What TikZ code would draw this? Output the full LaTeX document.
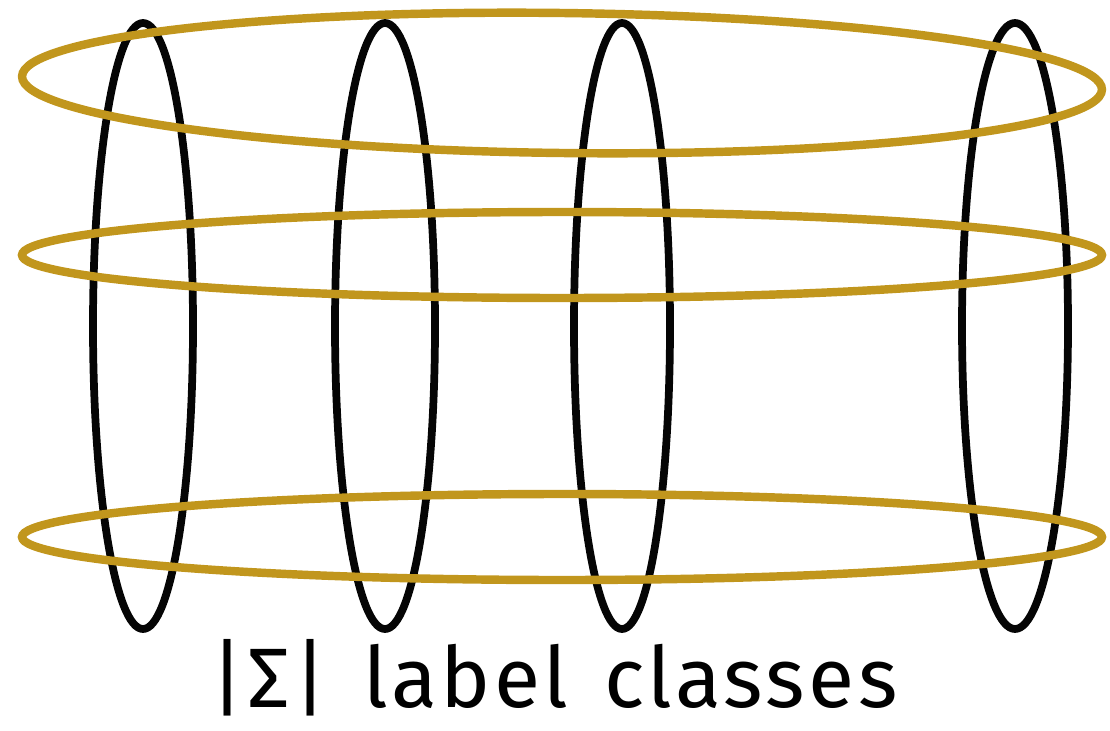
\documentclass[tikz,border=0pt]{standalone}
\usepackage{fontspec}
\setmainfont{Fira Sans}
\newfontfamily\captionfont[LetterSpace=4,WordSpace=1.4]{Fira Sans}
\usepackage{tikz}
\definecolor{gold}{RGB}{193,150,29}
\definecolor{ink}{RGB}{5,5,5}

\begin{document}
\begin{tikzpicture}[x=0.025cm,y=-0.025cm]
  \useasboundingbox (0,0) rectangle (1110,730);
  % vertical classes
  \foreach \cx/\rx in {143/50,385/50,622/48,1015/53}{
    \draw[ink,line width=5.5pt] (\cx,326) ellipse [x radius=\rx, y radius=303];}
  % horizontal classes
  \draw[gold,line width=6pt,rotate around={-0.7:(562,83)}] (562,83) ellipse [x radius=540, y radius=70];
  \foreach \cy in {255,537}{
    \draw[gold,line width=6pt] (562,\cy) ellipse [x radius=540, y radius=43];}
  \node[font=\captionfont\fontsize{60}{66}\selectfont,anchor=base,inner sep=0pt] (caption) at (554,707) {|Σ| label classes};
\end{tikzpicture}
\end{document}
